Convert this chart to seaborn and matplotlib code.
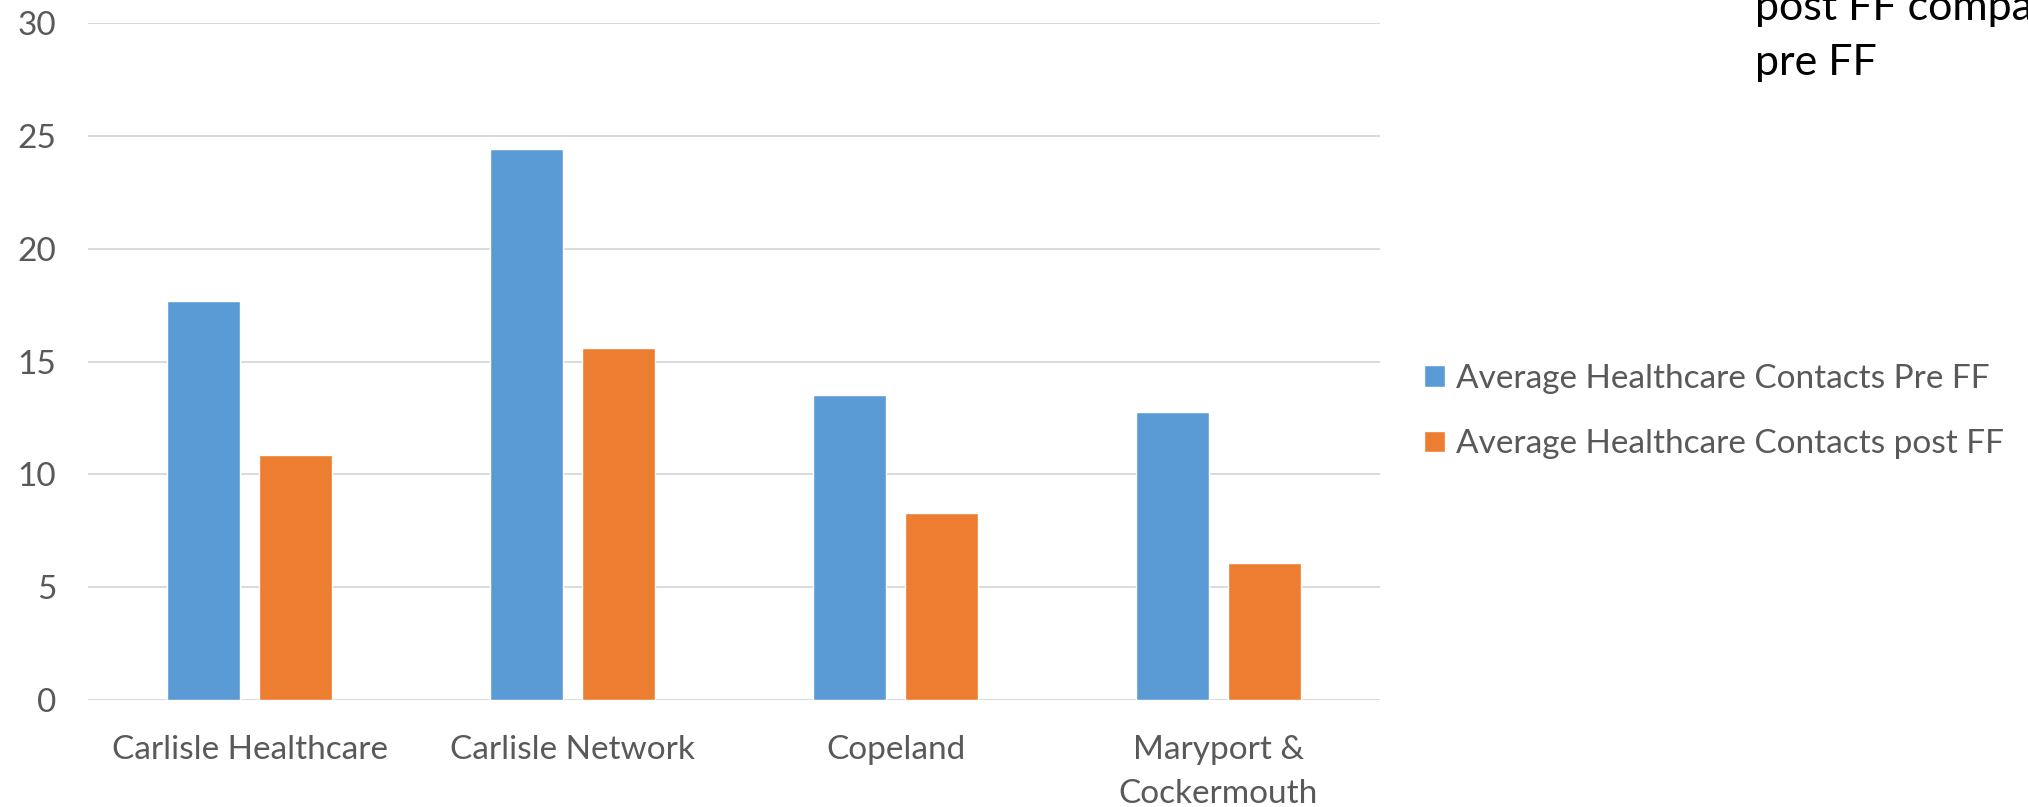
import matplotlib
matplotlib.use("Agg")
import matplotlib.pyplot as plt
import seaborn as sns
import pandas as pd

# Average healthcare contacts per locality, before and after FF
localities = ["Carlisle Healthcare", "Carlisle Network", "Copeland", "Maryport &\nCockermouth"]
pre_ff = [17.7, 24.4, 13.5, 12.75]
post_ff = [10.85, 15.6, 8.3, 6.08]
series_names = ["Average Healthcare Contacts Pre FF", "Average Healthcare Contacts post FF"]
y_ticks = [0, 5, 10, 15, 20, 25, 30]

df = pd.DataFrame({
    "locality": localities * 2,
    "contacts": pre_ff + post_ff,
    "series": [series_names[0]] * len(localities) + [series_names[1]] * len(localities),
})

sns.set_theme(style="white")
plt.rcParams["font.family"] = ["Lato", "DejaVu Sans"]

W, H = 2028, 807
fig = plt.figure(figsize=(W / 100, H / 100), dpi=100)
ax = fig.add_axes([88 / W, 1 - 700 / H, (1380 - 88) / W, (700 - 23) / H])

text_grey = "#595959"
sns.barplot(
    data=df, x="locality", y="contacts", hue="series",
    hue_order=series_names, order=localities,
    palette=["#5B9BD5", "#ED7D31"], width=0.57, gap=0.21,
    saturation=1, ax=ax, zorder=3,
)

ax.set_ylim(0, 30)
ax.set_xlim(-0.5, 3.5)
ax.set_yticks(y_ticks)
ax.set_xlabel("")
ax.set_ylabel("")
ax.grid(axis="y", color="#D9D9D9", linewidth=1.4, zorder=0)
ax.grid(axis="x", visible=False)
for s in ax.spines.values():
    s.set_visible(False)
ax.tick_params(axis="both", length=0, labelsize=24, labelcolor=text_grey)
ax.tick_params(axis="y", pad=23)
ax.tick_params(axis="x", pad=25)
for lab in ax.get_xticklabels():
    lab.set_linespacing(1.6)

sns.move_legend(
    ax, "center left",
    bbox_to_anchor=(1424 / W, 1 - 411.5 / H), bbox_transform=fig.transFigure,
    frameon=False, title=None, fontsize=24, borderpad=0, borderaxespad=0,
    handlelength=0.62, handleheight=0.62, handletextpad=0.33, labelspacing=1.06,
)
for t in ax.get_legend().get_texts():
    t.set_color(text_grey)

# Slide caption running off the top right corner
fig.text(1755 / W, 1 - 20 / H, "post FF compared to", fontsize=31, color="black", va="baseline", ha="left")
fig.text(1755 / W, 1 - 75 / H, "pre FF", fontsize=31, color="black", va="baseline", ha="left")

fig.savefig("out.png", dpi=100, facecolor="white")
